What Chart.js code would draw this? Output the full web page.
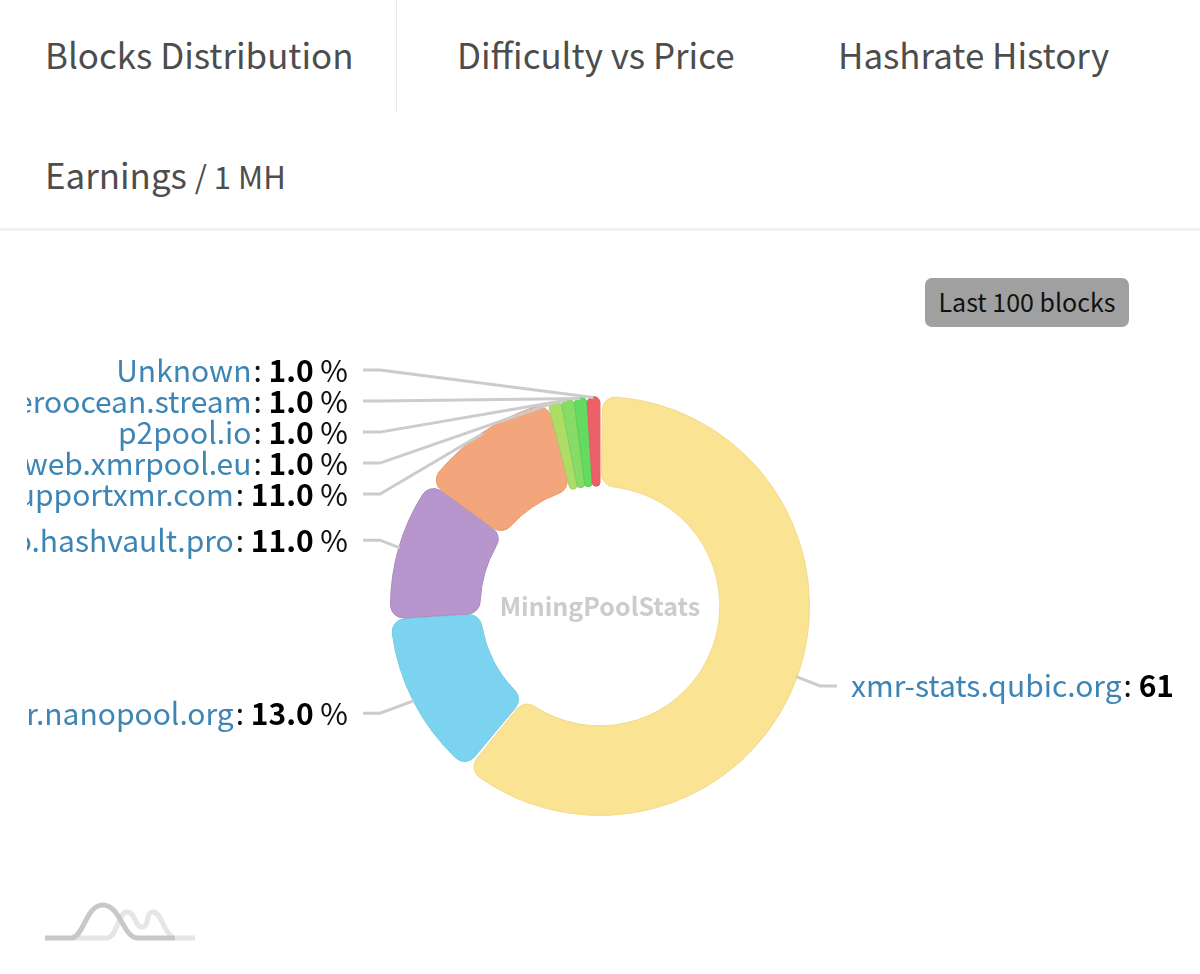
<!DOCTYPE html>
<html lang="en">
<head>
<meta charset="utf-8">
<title>Blocks Distribution</title>
<script src="https://cdn.jsdelivr.net/npm/chart.js"></script>
<style>
    html, body { margin: 0; padding: 0; background: #fff; }
    body { width: 1200px; height: 974px; position: relative; overflow: hidden; font-family: "Noto Sans CJK SC", "Noto Sans", sans-serif; }
    .tab { position: absolute; font-size: 34.9px; line-height: 44px; color: #4d4d4d; white-space: nowrap; }
    .tab small { font-size: 31px; }
    #divider { position: absolute; left: 396px; top: 0; width: 1px; height: 112px; background: #e8e8e8; }
    #rule { position: absolute; left: 0; top: 228px; width: 1200px; height: 3px; background: #f0f0f0; }
    #range { position: absolute; left: 925px; top: 278px; width: 204px; height: 49px; background: #a0a0a0; border-radius: 7px; color: #111; font-size: 25px; line-height: 47px; text-align: center; }
    #chart { position: absolute; left: 0; top: 0; width: 1200px; height: 974px; }
    #logo { position: absolute; left: 44px; top: 900px; }
</style>
</head>
<body>
    <div class="tab" style="left:45px;top:32px">Blocks Distribution</div>
    <div id="divider"></div>
    <div class="tab" style="left:457px;top:32px">Difficulty vs Price</div>
    <div class="tab" style="left:838px;top:32px">Hashrate History</div>
    <div class="tab" style="left:45px;top:152px">Earnings <small>/ 1 MH</small></div>
    <div id="rule"></div>
    <canvas id="chart" width="1200" height="974"></canvas>
    <div id="range">Last 100 blocks</div>
    <svg id="logo" width="152" height="44" viewBox="0 0 152 44" fill="none" stroke-width="5">
        <path d="M28 38 H63 C73 38 74 12 83 12 C92 12 90 27 98 27 C106 27 101 12 109 12 C118 12 120 36 131 38 H151" stroke="#e6e6e6"/>
        <path d="M1 38 H28 C40 36 42 5 59 5 C76 5 80 38 93 38 H131" stroke="#c8c8c8"/>
    </svg>
<script>
    // blocks per pool, clockwise from the top
    const poolNames = ['xmr-stats.qubic.org', 'xmr.nanopool.org', 'monero.hashvault.pro', 'supportxmr.com', 'web.xmrpool.eu', 'p2pool.io', 'moneroocean.stream', 'Unknown'];
    const poolShares = [61, 13, 11, 11, 1, 1, 1, 1];
    const poolColors = ['#fae392', '#7cd3f0', '#b795cd', '#f3a67c', '#aedd66', '#86dc66', '#64da60', '#ee6068'];
    const poolEdges = ['#f3d98a', '#74c9e6', '#ab8ac0', '#e89c74', '#a2d060', '#7dd05f', '#5ccd58', '#e05a62'];
    const watermark = 'MiningPoolStats';

    const labelFont = '"Noto Sans CJK SC", "Noto Sans", sans-serif';

    // slices go a little darker towards the rims of the ring
    function sliceFill(context) {
        const arc = context.element;
        if (!arc || !arc.outerRadius) return poolColors[context.dataIndex];
        const g = context.chart.ctx.createRadialGradient(arc.x, arc.y, arc.innerRadius, arc.x, arc.y, arc.outerRadius);
        g.addColorStop(0, poolEdges[context.dataIndex]);
        g.addColorStop(0.1, poolColors[context.dataIndex]);
        g.addColorStop(0.92, poolColors[context.dataIndex]);
        g.addColorStop(1, poolEdges[context.dataIndex]);
        return g;
    }

    // labels sit on a ring round the donut, pushed apart when they would overlap
    function layoutLabels(arcs) {
        const ring = 236, gap = 31;
        const items = arcs.map((arc, i) => {
            const mid = (arc.startAngle + arc.endAngle) / 2;
            return { i, arc, mid, left: Math.cos(mid) < 0, wantY: arc.y + ring * Math.sin(mid) };
        });
        [true, false].forEach(side => {
            let prev = -Infinity;
            items.filter(it => it.left === side).sort((a, b) => a.wantY - b.wantY).forEach(it => {
                it.y = Math.max(it.wantY, prev + gap);
                prev = it.y;
            });
        });
        return items;
    }

    function drawLabel(ctx, it) {
        const name = poolNames[it.i];
        const value = poolShares[it.i].toFixed(1);
        const colonGap = 2;
        ctx.textBaseline = 'middle';
        ctx.textAlign = 'left';
        ctx.font = '30px ' + labelFont;
        const nameW = ctx.measureText(name).width + colonGap;
        const colonW = ctx.measureText(': ').width;
        const unitW = ctx.measureText(' %').width;
        ctx.font = 'bold 30px ' + labelFont;
        const valueW = ctx.measureText(value).width;
        const total = nameW + colonW + valueW + unitW;
        let x = it.left ? 348 - total : 851;
        ctx.font = '30px ' + labelFont;
        ctx.fillStyle = '#3d85b5';
        ctx.fillText(name, x, it.y);
        x += nameW;
        ctx.fillStyle = '#111';
        ctx.fillText(': ', x, it.y);
        x += colonW;
        ctx.font = 'bold 30px ' + labelFont;
        ctx.fillStyle = '#000';
        ctx.fillText(value, x, it.y);
        x += valueW;
        ctx.font = '30px ' + labelFont;
        ctx.fillStyle = '#111';
        ctx.fillText(' %', x, it.y);
    }

    const pieLabels = {
        id: 'pieLabels',
        afterDraw(chart) {
            const ctx = chart.ctx;
            const arcs = chart.getDatasetMeta(0).data;
            const items = layoutLabels(arcs);
            const cx = arcs[0].x;
            ctx.save();
            items.forEach(it => {
                const dir = it.left ? -1 : 1;
                const r = it.arc.outerRadius;
                ctx.beginPath();
                ctx.moveTo(cx + dir * 237, it.y);
                ctx.lineTo(cx + dir * 220, it.y);
                ctx.lineTo(it.arc.x + r * Math.cos(it.mid), it.arc.y + r * Math.sin(it.mid));
                ctx.strokeStyle = '#cccccc';
                ctx.lineWidth = 3;
                ctx.stroke();
            });
            // the page cuts long labels off at both sides
            ctx.beginPath();
            ctx.rect(27, 0, 1145, chart.height);
            ctx.clip();
            items.forEach(it => drawLabel(ctx, it));
            ctx.restore();

            ctx.save();
            ctx.font = 'bold 25px ' + labelFont;
            ctx.fillStyle = '#cccccc';
            ctx.textAlign = 'center';
            ctx.textBaseline = 'middle';
            ctx.fillText(watermark, cx, arcs[0].y);
            ctx.restore();
        }
    };

    new Chart(document.getElementById('chart'), {
        type: 'doughnut',
        data: {
            labels: poolNames,
            datasets: [{
                data: poolShares,
                backgroundColor: sliceFill,
                borderColor: poolEdges,
                borderWidth: 1,
                borderRadius: 13,
                spacing: 2
            }]
        },
        options: {
            responsive: false,
            animation: false,
            cutout: '57%',
            layout: { padding: { left: 390, right: 390, top: 396, bottom: 158 } },
            plugins: { legend: { display: false }, tooltip: { enabled: false } }
        },
        plugins: [pieLabels]
    });
</script>
</body>
</html>
